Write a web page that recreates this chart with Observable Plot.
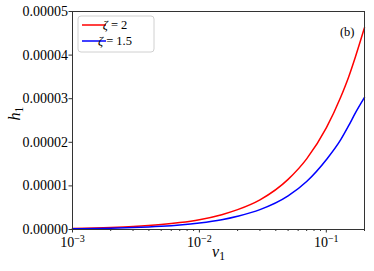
<!DOCTYPE html>
<html><head>
<meta charset="utf-8">
<script src="https://cdn.jsdelivr.net/npm/d3@7"></script>
<script src="https://cdn.jsdelivr.net/npm/@observablehq/plot@0.6"></script>
<style>body{margin:0;background:#fff} svg{display:block}</style>
</head><body><div id="chart"></div>
<script>
const v1 = [0.001, 0.002, 0.003, 0.005, 0.007, 0.01, 0.015, 0.02, 0.03, 0.05, 0.07, 0.1, 0.13, 0.15, 0.17, 0.2];
const hZeta2 = [0.023e-5, 0.046e-5, 0.068e-5, 0.113e-5, 0.158e-5, 0.225e-5, 0.34e-5, 0.455e-5, 0.68e-5, 1.15e-5, 1.62e-5, 2.33e-5, 3.04e-5, 3.50e-5, 3.97e-5, 4.63e-5];
const hZeta15 = [0.015e-5, 0.03e-5, 0.045e-5, 0.075e-5, 0.105e-5, 0.15e-5, 0.225e-5, 0.305e-5, 0.455e-5, 0.77e-5, 1.10e-5, 1.60e-5, 2.06e-5, 2.38e-5, 2.68e-5, 3.03e-5];
const seriesLabels = ["ζ = 2", "ζ = 1.5"];
const seriesColors = ["#ff0000", "#0000ff"];
const yTicks = [0, 1e-5, 2e-5, 3e-5, 4e-5, 5e-5];
const xMajorTicks = [1e-3, 1e-2, 1e-1];
const xMinorTicks = [2e-3, 3e-3, 4e-3, 5e-3, 6e-3, 7e-3, 8e-3, 9e-3, 2e-2, 3e-2, 4e-2, 5e-2, 6e-2, 7e-2, 8e-2, 9e-2, 2e-1];
const xDomain = [0.001, 0.2];
const yDomain = [0, 5e-5];
const panelLabel = "(b)";
const xLabel = "v_1";
const yLabel = "h_1";

const data = [];
v1.forEach((v, i) => data.push({v, h: hZeta2[i], series: seriesLabels[0]}));
v1.forEach((v, i) => data.push({v, h: hZeta15[i], series: seriesLabels[1]}));

const serif = "'Liberation Serif', 'DejaVu Serif', serif";
const plot = Plot.plot({
  width: 374, height: 271,
  marginLeft: 72, marginRight: 10, marginTop: 11, marginBottom: 42,
  style: {fontFamily: serif, fontSize: "14px", background: "#fff", color: "#000"},
  x: {type: "log", domain: xDomain},
  y: {domain: yDomain},
  color: {domain: seriesLabels, range: seriesColors},
  marks: [
    Plot.line(data, {x: "v", y: "h", z: "series", stroke: "series", strokeWidth: 1.5, curve: "monotone-x"}),
    Plot.axisY({ticks: yTicks, tickFormat: d3.format(".5f"), tickSize: 3.5, tickPadding: 1, label: null, stroke: "#333"}),
    Plot.axisX({ticks: xMajorTicks, tickFormat: d => "10^−" + Math.round(-Math.log10(d)), tickSize: 3.5, tickPadding: 4, label: null, stroke: "#333"}),
    Plot.axisX({ticks: xMinorTicks, tickFormat: () => "", tickSize: 2, label: null, stroke: "#333"}),
    Plot.frame({stroke: "#333"}),
    Plot.text([panelLabel], {frameAnchor: "top-right", dx: -10, dy: 16, text: d => d, textAnchor: "end", fontSize: 12.5}),
    Plot.text([yLabel], {frameAnchor: "left", dx: -58, text: d => d, rotate: -90, fontSize: 16}),
    Plot.text([xLabel], {frameAnchor: "bottom", dy: 27, text: d => d, fontSize: 16})
  ]
});
document.getElementById("chart").appendChild(plot);

// typeset superscripts / subscripts
d3.select(plot).selectAll("text").each(function() {
  const t = this.textContent;
  const el = d3.select(this);
  if (t.includes("^")) {
    const [b, e] = t.split("^");
    el.text(null);
    el.append("tspan").text(b);
    el.append("tspan").attr("dy", "-0.45em").style("font-size", "0.72em").text(e);
  } else if (/^[a-z]_\d$/.test(t)) {
    const [b, s] = t.split("_");
    el.text(null);
    el.append("tspan").style("font-style", "italic").text(b);
    el.append("tspan").attr("dy", "0.3em").style("font-size", "0.72em").text(s);
  }
});

// legend
const svg = d3.select(plot);
const lg = svg.append("g").style("font-family", serif).style("font-size", "12.5px");
lg.append("rect").attr("x", 78).attr("y", 16).attr("width", 76).attr("height", 36)
  .attr("rx", 3).attr("fill", "#fff").attr("fill-opacity", 0.8).attr("stroke", "#d0d0d0");
seriesLabels.forEach((lab, i) => {
  const y = 25 + i * 16;
  lg.append("line").attr("x1", 82).attr("x2", 106).attr("y1", y).attr("y2", y)
    .attr("stroke", seriesColors[i]).attr("stroke-width", 1.5);
  const [g, rest] = [lab.slice(0, 1), lab.slice(1)];
  const t = lg.append("text").attr("x", 115).attr("y", y).attr("dy", "0.35em").style("font-family", serif);
  t.append("tspan").style("font-style", "italic").text(g);
  t.append("tspan").text(rest);
});
</script>
</body></html>
